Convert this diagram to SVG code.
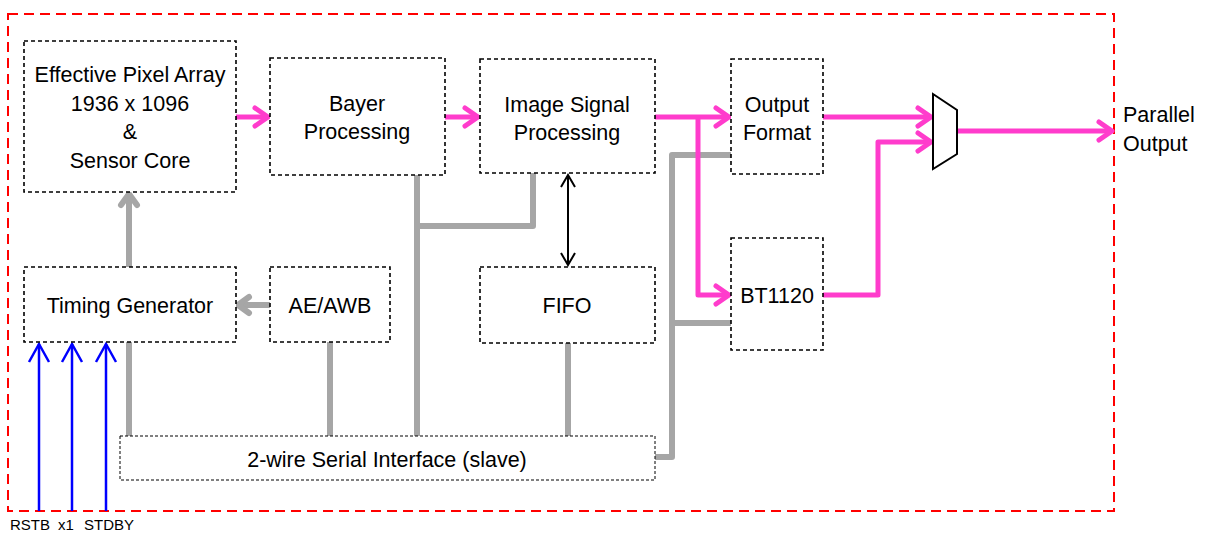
<svg xmlns="http://www.w3.org/2000/svg" width="1206" height="534" viewBox="0 0 1206 534">
<style>
.box{fill:#fff;stroke:#000;stroke-width:1.6;stroke-dasharray:4 3}
.sbox{fill:#fff;stroke:#000;stroke-width:1;stroke-dasharray:3 2}
.t{font-family:"Liberation Sans",Arial,sans-serif;font-size:21.5px;fill:#000;text-anchor:middle}
.s{font-family:"Liberation Sans",Arial,sans-serif;font-size:15px;fill:#000}
.pk{fill:none;stroke:#ff3ccc;stroke-width:5;stroke-linejoin:round}
.gr{fill:none;stroke:#a6a6a6;stroke-width:6;stroke-linejoin:round}
.bl{fill:none;stroke:#0000ff;stroke-width:2.5}
.bk{fill:none;stroke:#000;stroke-width:2}
</style>
<defs>
<marker id="mp" markerUnits="userSpaceOnUse" viewBox="-16 -11 18 22" refX="0" refY="0" markerWidth="18" markerHeight="22" orient="auto" overflow="visible">
<path d="M-13,-9 L0,0 L-13,9" fill="none" stroke="#ff3ccc" stroke-width="5" stroke-linecap="round" stroke-linejoin="round"/>
</marker>
<marker id="mg" markerUnits="userSpaceOnUse" viewBox="-16 -11 18 22" refX="0" refY="0" markerWidth="18" markerHeight="22" orient="auto" overflow="visible">
<path d="M-11,-8 L0,0 L-11,8" fill="none" stroke="#a6a6a6" stroke-width="6" stroke-linecap="round" stroke-linejoin="round"/>
</marker>
<marker id="mb" markerUnits="userSpaceOnUse" viewBox="-20 -12 22 24" refX="0" refY="0" markerWidth="22" markerHeight="24" orient="auto" overflow="visible">
<path d="M-18,-10 L0,0 L-18,10" fill="none" stroke="#0000ff" stroke-width="2.5"/>
</marker>
<marker id="mk" markerUnits="userSpaceOnUse" viewBox="-14 -9 16 18" refX="0" refY="0" markerWidth="16" markerHeight="18" orient="auto-start-reverse" overflow="visible">
<path d="M-12,-7 L0,0 L-12,7" fill="none" stroke="#000" stroke-width="2"/>
</marker>
</defs>
<rect width="1206" height="534" fill="#fff"/>
<rect id="chip" x="8" y="14" width="1106" height="497" fill="none" stroke="#ff0000" stroke-width="2" stroke-dasharray="10 6"/>

<g id="connectors">
<path class="gr" d="M129,436 V342"/>
<path class="gr" d="M129,267 V194" marker-end="url(#mg)"/>
<path class="gr" d="M270,305 H238" marker-end="url(#mg)"/>
<path class="gr" d="M330,342 V436"/>
<path class="gr" d="M417,175 V436"/>
<path class="gr" d="M417,226 H533 V173"/>
<path class="gr" d="M568,343 V436"/>
<path class="gr" d="M655,457 H672 V155 H731"/>
<path class="gr" d="M672,323 H731"/>
<path class="bk" d="M568,175 V265" marker-start="url(#mk)" marker-end="url(#mk)"/>
<path class="pk" d="M236,117 H268" marker-end="url(#mp)"/>
<path class="pk" d="M445,117 H478" marker-end="url(#mp)"/>
<path class="pk" d="M655,117 H729" marker-end="url(#mp)"/>
<path class="pk" d="M698,117 V295 H729" marker-end="url(#mp)"/>
<path class="pk" d="M823,117 H931" marker-end="url(#mp)"/>
<path class="pk" d="M823,295 H878 V142 H931" marker-end="url(#mp)"/>
<path class="pk" d="M957,131 H1112" marker-end="url(#mp)"/>
<path class="bl" d="M39,511 V344" marker-end="url(#mb)"/>
<path class="bl" d="M72,511 V344" marker-end="url(#mb)"/>
<path class="bl" d="M106,511 V344" marker-end="url(#mb)"/>
</g>

<g id="pixel_array">
<rect class="box" x="24" y="41" width="212" height="151"/>
<text class="t" x="130" y="82">Effective Pixel Array</text>
<text class="t" x="130" y="111">1936 x 1096</text>
<text class="t" x="130" y="139">&amp;</text>
<text class="t" x="130" y="168">Sensor Core</text>
</g>
<g id="bayer">
<rect class="box" x="270" y="58" width="175" height="117"/>
<text class="t" x="357" y="111">Bayer</text>
<text class="t" x="357" y="139">Processing</text>
</g>
<g id="isp">
<rect class="box" x="480" y="59" width="175" height="114"/>
<text class="t" x="567" y="112">Image Signal</text>
<text class="t" x="567" y="140">Processing</text>
</g>
<g id="output_format">
<rect class="box" x="731" y="59" width="92" height="115"/>
<text class="t" x="777" y="112">Output</text>
<text class="t" x="777" y="140">Format</text>
</g>
<g id="bt1120">
<rect class="box" x="731" y="238" width="92" height="112"/>
<text class="t" x="777" y="303">BT1120</text>
</g>
<g id="fifo">
<rect class="box" x="480" y="267" width="175" height="76"/>
<text class="t" x="567" y="313">FIFO</text>
</g>
<g id="timing_generator">
<rect class="box" x="24" y="267" width="212" height="75"/>
<text class="t" x="130" y="313">Timing Generator</text>
</g>
<g id="ae_awb">
<rect class="box" x="270" y="267" width="120" height="75"/>
<text class="t" x="330" y="313">AE/AWB</text>
</g>
<g id="serial">
<rect class="sbox" x="120" y="436" width="535" height="44"/>
<text class="t" x="387" y="467">2-wire Serial Interface (slave)</text>
</g>
<g id="mux">
<polygon points="933,94 957,110 957,154 933,169" fill="#fff" stroke="#000" stroke-width="2"/>
</g>
<g id="parallel_output">
<text class="t" x="1123" y="122" style="text-anchor:start">Parallel</text>
<text class="t" x="1123" y="151" style="text-anchor:start">Output</text>
</g>
<g id="inputs">
<text class="s" x="10" y="530">RSTB</text>
<text class="s" x="58" y="530">x1</text>
<text class="s" x="84" y="530">STDBY</text>
</g>
</svg>
